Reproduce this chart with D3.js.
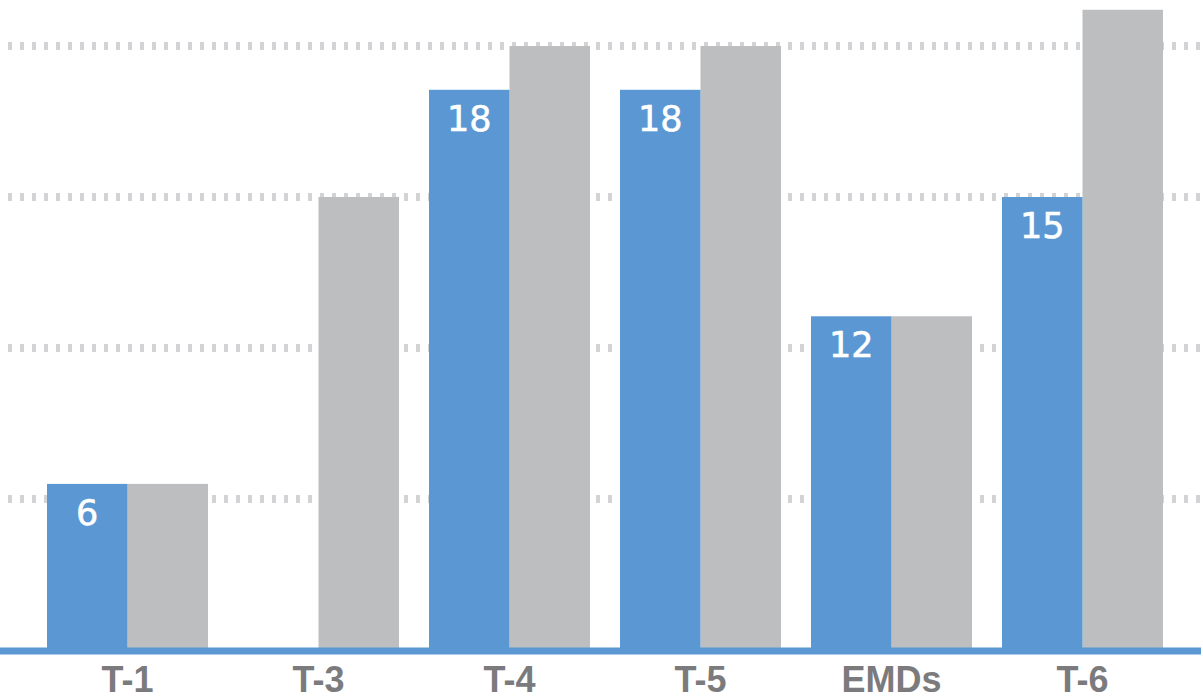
<!DOCTYPE html>
<html>
<head>
<meta charset="utf-8">
<script src="https://cdn.jsdelivr.net/npm/d3@7/dist/d3.min.js"></script>
<style>
  html, body { margin: 0; padding: 0; background: #ffffff; }
  svg { display: block; }
</style>
</head>
<body>
<svg id="chart" width="1203" height="699"></svg>
<script>
// Categories and the two series
const categories = ["T-1", "T-3", "T-4", "T-5", "EMDs", "T-6"];
const blueValues = [6, null, 18, 18, 12, 15];
const grayValues = [6, 15, 19, 19, 12, 20];

// The value axis is drawn in grid-line units; the chart is not proportional,
// so values are mapped onto grid levels through piecewise stops.
const valueStops = [0, 6, 12, 15, 18, 19, 20];
const levelStops = [0, 1.1, 2.21, 3.0, 3.71, 4.0, 4.24];
const gridLevels = [1, 2, 3, 4];

const W = 1203, H = 699;
const zeroY = 650, levelPx = 151;

const svg = d3.select("#chart");

const level = d3.scaleLinear().domain(valueStops).range(levelStops);
const yPix = d3.scaleLinear().domain([0, 4]).range([zeroY, zeroY - 4 * levelPx]);
const y = v => yPix(level(v));

const x0 = d3.scaleBand().domain(categories).range([47, 1163])
  .paddingInner(0.157).paddingOuter(0);
const x1 = d3.scaleBand().domain(["blue", "gray"]).range([0, x0.bandwidth()]).padding(0);

// dotted grid lines
svg.append("g").selectAll("line").data(gridLevels).join("line")
  .attr("x1", 8).attr("x2", W)
  .attr("y1", d => yPix(d)).attr("y2", d => yPix(d))
  .attr("stroke", "#d3d3d5").attr("stroke-width", 8)
  .attr("stroke-dasharray", "4 8");

const rows = categories.map((c, i) => ({ cat: c, blue: blueValues[i], gray: grayValues[i] }));

const groups = svg.append("g").selectAll("g").data(rows).join("g")
  .attr("transform", d => `translate(${x0(d.cat)},0)`);

groups.filter(d => d.gray != null).append("rect")
  .attr("x", x1("gray")).attr("width", x1.bandwidth())
  .attr("y", d => y(d.gray)).attr("height", d => zeroY - y(d.gray))
  .attr("fill", "#bdbec0");

groups.filter(d => d.blue != null).append("rect")
  .attr("x", x1("blue")).attr("width", x1.bandwidth())
  .attr("y", d => y(d.blue)).attr("height", d => zeroY - y(d.blue))
  .attr("fill", "#5b98d3");

groups.filter(d => d.blue != null).append("text")
  .attr("x", x1("blue") + x1.bandwidth() / 2)
  .attr("y", d => y(d.blue) + 41)
  .attr("text-anchor", "middle")
  .attr("fill", "#ffffff")
  .attr("stroke", "#ffffff").attr("stroke-width", 0.6)
  .attr("font-family", "'DejaVu Sans', sans-serif")
  .attr("font-size", 35)
  .text(d => d.blue);

// baseline
svg.append("line")
  .attr("x1", 0).attr("x2", 1201)
  .attr("y1", zeroY + 1).attr("y2", zeroY + 1)
  .attr("stroke", "#5b98d3").attr("stroke-width", 7);

// category labels
const xAxis = svg.append("g")
  .attr("transform", `translate(0,${zeroY})`)
  .call(d3.axisBottom(x0).tickSize(0).tickPadding(0));
xAxis.select(".domain").remove();
xAxis.selectAll("text")
  .attr("y", 42).attr("dy", null)
  .attr("fill", "#7b7b7d")
  .attr("font-family", "'Liberation Sans', Arial, sans-serif")
  .attr("font-weight", "bold")
  .attr("font-size", 36);
</script>
</body>
</html>
